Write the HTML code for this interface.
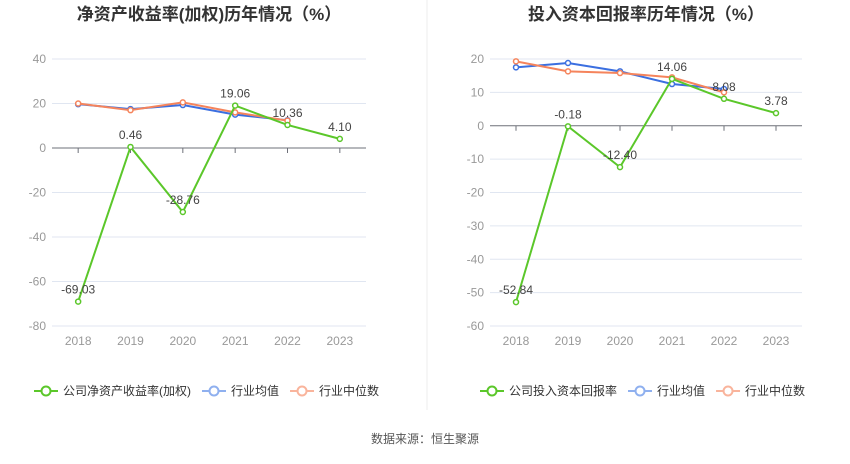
<!DOCTYPE html>
<html><head><meta charset="utf-8">
<style>
body{margin:0;background:#fff;width:850px;height:459px;overflow:hidden;font-family:"Liberation Sans","Noto Sans CJK SC",sans-serif;}
svg text{font-family:"Liberation Sans","Noto Sans CJK SC",sans-serif;}
</style></head>
<body>
<svg id="c" width="850" height="459">
<line x1="427" y1="0" x2="427" y2="410" stroke="#eee"/>
<text x="425" y="443" font-size="12" fill="#555" text-anchor="middle">数据来源：恒生聚源</text>
</svg>
<script>
const years=["2018","2019","2020","2021","2022","2023"];
const roeCompany=[-69.03,0.46,-28.76,19.06,10.36,4.10];
const roeAvg=[19.7,17.5,19.3,15,12.5];
const roeMedian=[20,17,20.5,16,12.3];
const roeTicks=[40,20,0,-20,-40,-60,-80];
const roiCompany=[-52.84,-0.18,-12.40,14.06,8.08,3.78];
const roiAvg=[17.5,18.8,16.3,12.5,11];
const roiMedian=[19.3,16.3,15.8,14.5,10];
const roiTicks=[20,10,0,-10,-20,-30,-40,-50,-60];
const NS="http://www.w3.org/2000/svg";
const svg=document.getElementById('c');
function mk(t,a,p){const e=document.createElementNS(NS,t);for(const k in a)e.setAttribute(k,a[k]);(p||svg).appendChild(e);return e;}
function chart(o){
  const g=mk('g',{});
  
  
  const ymax=o.ticks[0],ymin=o.ticks[o.ticks.length-1];
  const yS=v=>o.top+(ymax-v)/(ymax-ymin)*(o.bot-o.top);
  const step=(o.x1-o.x0)/years.length;
  const xS=i=>o.x0+step*(i+0.5);
  const t=mk('text',{x:(o.x0+o.x1)/2,y:20,'font-size':17,'font-weight':'bold',fill:'#333','text-anchor':'middle'},g);
  t.textContent=o.title;
  
  
  o.ticks.forEach(v=>{
    const y=yS(v);
    if(v!==0){const l=mk('line',{x1:o.x0,x2:o.x1,y1:y,y2:y,stroke:'#e0e6f1'},g);
      
      }
    const tx=mk('text',{x:o.x0-6,y:y+4,'font-size':12,fill:'#999','text-anchor':'end'},g);
    tx.textContent=v;
    
    
  });
  const ax=mk('line',{x1:o.x0,x2:o.x1,y1:yS(0),y2:yS(0),stroke:'#6e7079'},g);
  
  
  years.forEach((yr,i)=>{
    const tk=mk('line',{x1:xS(i),x2:xS(i),y1:yS(0),y2:yS(0)+5,stroke:'#6e7079'},g);
    
    
    const tx=mk('text',{x:xS(i),y:o.bot+19,'font-size':12,fill:'#999','text-anchor':'middle'},g);
    tx.textContent=yr;
    
    
  });
  function series(vals,color,nm){
    const pts=vals.map((v,i)=>xS(i)+','+yS(v)).join(' ');
    const pl=mk('polyline',{points:pts,fill:'none',stroke:color,'stroke-width':2},g);
    
    
    vals.forEach((v,i)=>{
      const c=mk('circle',{cx:xS(i),cy:yS(v),r:2.5,fill:'#fff',stroke:color,'stroke-width':1.5},g);
      
      
    });
  }
  series(o.avg,'#3b6fe0','industry-average');
  series(o.med,'#f5845c','industry-median');
  series(o.comp,'#5bc72a','company');
  o.comp.forEach((v,i)=>{
    const tx=mk('text',{x:xS(i),y:yS(v)-8,'font-size':12,fill:'#444','text-anchor':'middle'},g);
    tx.textContent=v.toFixed(2);
    
    
  });
  // legend
  const items=[[o.legend,'#5bc72a'],['行业均值','#8fb0ef'],['行业中位数','#f9b49c']];
  let lx=o.legX;
  items.forEach(([txt,col])=>{
    const lg=mk('g',{},g);
    
    
    mk('line',{x1:lx,x2:lx+24,y1:391,y2:391,stroke:col,'stroke-width':2},lg);
    mk('circle',{cx:lx+12,cy:391,r:4.5,fill:'#fff',stroke:col,'stroke-width':2},lg);
    const tx=mk('text',{x:lx+29,y:395,'font-size':12,fill:'#333'},lg);
    tx.textContent=txt;
    lx+=29+tx.getComputedTextLength()+11;
  });
}
chart({name:'roe-chart',title:'净资产收益率(加权)历年情况（%）',x0:52,x1:366,top:59,bot:326,ticks:roeTicks,comp:roeCompany,avg:roeAvg,med:roeMedian,legend:'公司净资产收益率(加权)',legX:34});
chart({name:'roi-chart',title:'投入资本回报率历年情况（%）',x0:490,x1:802,top:59,bot:326,ticks:roiTicks,comp:roiCompany,avg:roiAvg,med:roiMedian,legend:'公司投入资本回报率',legX:480});
</script>
</body></html>
